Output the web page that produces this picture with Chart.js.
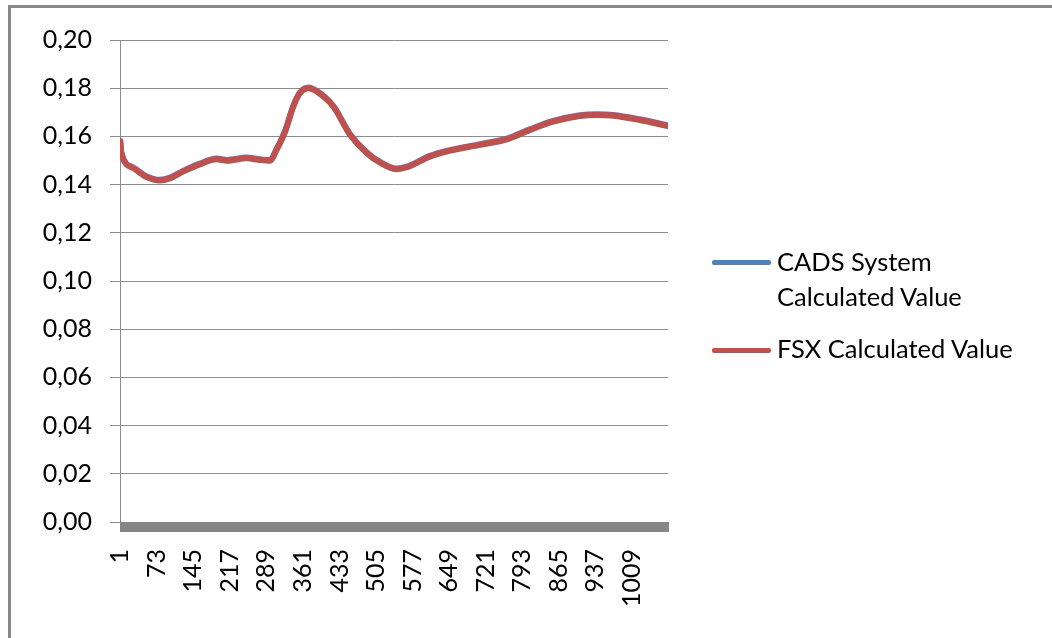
<!DOCTYPE html>
<html>
<head>
<meta charset="utf-8">
<script src="https://cdn.jsdelivr.net/npm/chart.js@4.4.0/dist/chart.umd.min.js"></script>
<style>
    html, body { margin: 0; padding: 0; background: #fff; overflow: hidden; }
    #frame { position: absolute; left: 8px; top: 5px; width: 1100px; height: 700px; border: 3px solid #878787; }
    #wrap { position: absolute; left: 0; top: 0; width: 1052px; height: 638px; }
    .swatch { position: absolute; left: 712px; width: 59px; height: 5px; border-radius: 2px; }
    .label { position: absolute; left: 777px; font-family: Lato, sans-serif; font-size: 25.5px; line-height: 34.5px; color: #000; white-space: nowrap; }
</style>
</head>
<body>
<div id="frame"></div>
<div id="wrap"><canvas id="myChart" width="1052" height="638"></canvas></div>
<div class="swatch" style="top:260px; background:#4F81BD"></div>
<div class="label" style="top:244px">CADS System<br>Calculated Value</div>
<div class="swatch" style="top:348px; background:#C0504D"></div>
<div class="label" style="top:331px">FSX Calculated Value</div>
<script>
// sample positions (row number)
const sampleIdx = [1, 3, 27, 53, 79, 99, 125, 158, 191, 211, 250, 276, 296, 309, 326, 342, 355, 372, 388,
    421, 454, 487, 513, 546, 566, 611, 644, 710, 763, 809, 854, 907, 940, 973, 1025, 1080];

const cadsValues = [0.1581, 0.1534, 0.1471, 0.1434, 0.1420, 0.1429, 0.1457, 0.1487, 0.1508, 0.1502, 0.1512,
    0.1505, 0.1502, 0.1547, 0.1624, 0.1727, 0.1782, 0.1803, 0.1789, 0.1726, 0.1609, 0.1533, 0.1494, 0.1467,
    0.1475, 0.1519, 0.1540, 0.1568, 0.1591, 0.1630, 0.1664, 0.1688, 0.1692, 0.1689, 0.1671, 0.1646];

const fsxValues = [0.1578, 0.1531, 0.1468, 0.1431, 0.1417, 0.1426, 0.1454, 0.1484, 0.1505, 0.1499, 0.1509,
    0.1502, 0.1499, 0.1544, 0.1620, 0.1723, 0.1779, 0.1800, 0.1786, 0.1723, 0.1606, 0.1530, 0.1491, 0.1464,
    0.1472, 0.1516, 0.1537, 0.1565, 0.1588, 0.1627, 0.1661, 0.1685, 0.1689, 0.1686, 0.1668, 0.1643];

const xTickLabels = [1, 73, 145, 217, 289, 361, 433, 505, 577, 649, 721, 793, 865, 937, 1009];
const rowCount = 1080;

Chart.defaults.font.family = 'Lato, sans-serif';
Chart.defaults.color = '#000';

const toPoints = (values) => values.map((v, i) => ({x: sampleIdx[i], y: v}));

// thick grey band under the zero line, like the Excel category axis
const axisBand = {
    id: 'axisBand',
    afterDraw(chart) {
        const ctx = chart.ctx;
        const area = chart.chartArea;
        const y0 = chart.scales.y.getPixelForValue(0);
        ctx.save();
        ctx.fillStyle = '#868686';
        ctx.fillRect(area.left, y0, area.right - area.left + 1, 10);
        ctx.restore();
    }
};

const ctx = document.getElementById('myChart').getContext('2d');
const myChart = new Chart(ctx, {
    type: 'line',
    data: {
        datasets: [{
            label: 'CADS System Calculated Value',
            data: toPoints(cadsValues),
            borderColor: '#4F81BD',
            borderWidth: 6,
            order: 1
        }, {
            label: 'FSX Calculated Value',
            data: toPoints(fsxValues),
            borderColor: '#C0504D',
            borderWidth: 6,
            order: 0
        }]
    },
    options: {
        responsive: false,
        animation: false,
        elements: {
            point: {radius: 0},
            line: {cubicInterpolationMode: 'monotone', borderCapStyle: 'round', borderJoinStyle: 'round'}
        },
        layout: {
            padding: {top: 40, right: 384, left: 0, bottom: 0}
        },
        plugins: {
            legend: {display: false},
            tooltip: {enabled: false}
        },
        scales: {
            x: {
                type: 'linear',
                min: 0.5,
                max: rowCount + 0.5,
                grid: {display: false, drawTicks: false},
                border: {display: false},
                afterBuildTicks: (scale) => {
                    scale.ticks = xTickLabels.map(v => ({value: v}));
                },
                afterFit: (scale) => { scale.height = 116; },
                ticks: {
                    autoSkip: false,
                    minRotation: 90,
                    maxRotation: 90,
                    padding: 27,
                    font: {size: 25},
                    callback: (value) => String(value)
                }
            },
            y: {
                min: 0,
                max: 0.2,
                grid: {color: '#8c8c8c', tickLength: 10},
                border: {display: true, color: '#8c8c8c', width: 1},
                afterFit: (scale) => { scale.width = 120; },
                ticks: {
                    stepSize: 0.02,
                    padding: 18,
                    font: {size: 25},
                    callback: (value) => value.toFixed(2).replace('.', ',')
                }
            }
        }
    },
    plugins: [axisBand]
});
</script>
</body>
</html>
